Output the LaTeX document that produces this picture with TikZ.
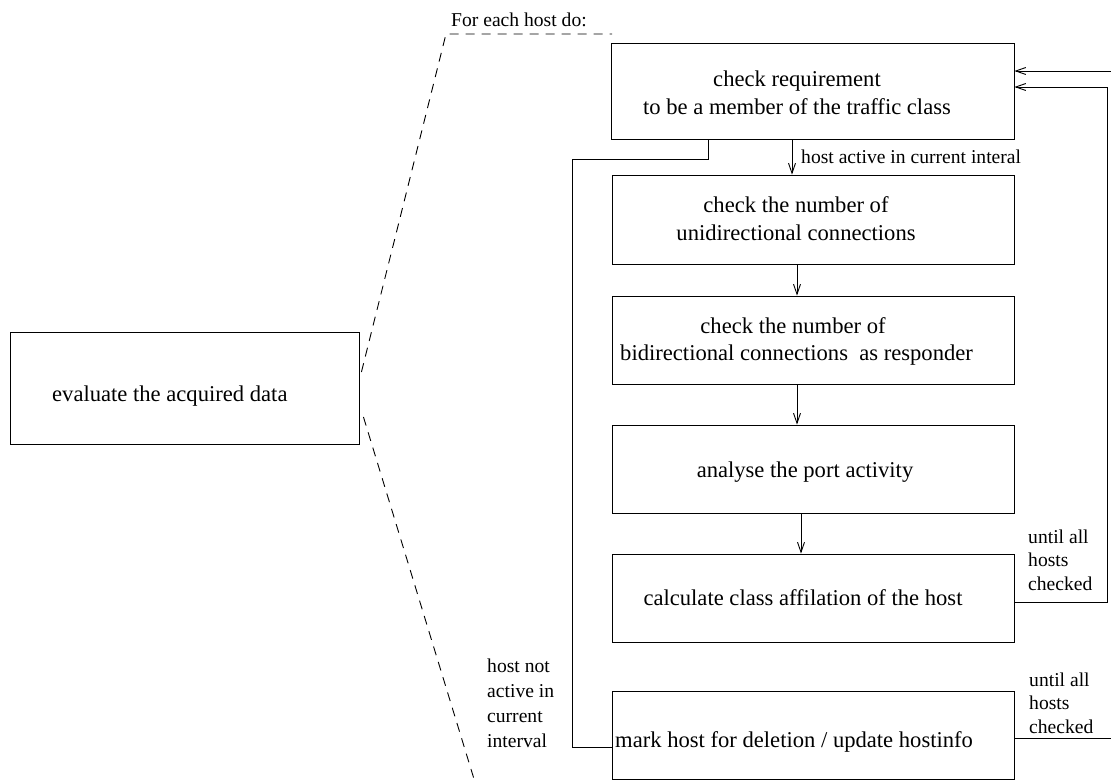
\documentclass[tikz,border=0pt]{standalone}
\usepackage{fontspec}
\setmainfont{Liberation Serif}
\usetikzlibrary{arrows.meta}
\begin{document}
\begin{tikzpicture}[x=1pt,y=-1pt,
  box/.style={draw, line width=0.9pt, inner sep=0pt, minimum width=402pt, minimum height=88pt},
  big/.style={font=\fontsize{22.6}{28}\selectfont, inner sep=0pt, align=center},
  bigl/.style={font=\fontsize{22.6}{28}\selectfont, inner sep=0pt, align=left},
  small/.style={font=\fontsize{19.6}{23.5}\selectfont, inner sep=0pt, align=left},
  conn/.style={line width=0.9pt},
  arr/.style={line width=0.9pt, -{Straight Barb[length=10pt,width=7pt]}},
  dashline/.style={line width=0.9pt, dash pattern=on 9pt off 7pt}]
\useasboundingbox (0,0) rectangle (1111,781);

% boxes
\node[box, minimum width=349pt, minimum height=112pt] (lb) at (184.5,388) {};
\node[box, minimum width=403pt, minimum height=96pt] (b1) at (812.5,91) {};
\node[box, minimum height=89pt] (b2) at (813,219.5) {};
\node[box] (b3) at (813,340) {};
\node[box] (b4) at (813,469) {};
\node[box] (b5) at (813,598) {};
\node[box] (b6) at (813,735) {};

% box texts (base anchor = last line's baseline)
\node[bigl, anchor=base west] (tlb) at (52,401) {evaluate the acquired data};
\node[big, anchor=base] (t1) at (797,115) {check requirement\\to be a member of the traffic class};
\node[big, anchor=base] (t2) at (796,240) {check the number of\\unidirectional connections};
\node[big, anchor=base] (t3a) at (793,333) {check the number of};
\node[bigl, anchor=base west] (t3b) at (620,360) {bidirectional connections\ \ as responder};
\node[big, anchor=base] (t4) at (805,477) {analyse the port activity};
\node[big, anchor=base] (t5) at (803,605) {calculate class affilation of the host};
\node[bigl, anchor=base west] (t6) at (615,747) {mark host for deletion / update hostinfo};

% labels
\node[small, anchor=base west] (lfor) at (451,27) {For each host do:};
\node[small, anchor=base west] (lact) at (801,164) {host active in current interal};
\node[small, anchor=base west, font=\fontsize{19.6}{25}\selectfont] (lnot) at (487,747) {host not\\active in\\current\\interval};
\node[small, anchor=base west] (lu1) at (1028,590) {until all\\hosts\\checked};
\node[small, anchor=base west] (lu2) at (1029,733) {until all\\hosts\\checked};

% coordinates
\coordinate (r1) at (1111,71);
\coordinate (lp) at (1107,87);
\coordinate (r6) at (1111,738);
\coordinate (lc) at (572,159);
\coordinate (d2) at (446,34);
\coordinate (d3) at (612,34);
\coordinate (d5) at (474,779);

% connectors
\draw[arr] (r1) -- (r1 -| b1.east);
\draw[arr] ([yshift=-4pt]b5.east) -| (lp) -- (lp -| b1.east);
\draw[conn] ([yshift=-3pt]b6.east) -- (r6);
\draw[conn] ([xshift=-104.5pt]b1.south) |- (lc) |- ([yshift=-12pt]b6.west);
\draw[arr] ([xshift=-20.5pt]b1.south) -- ([xshift=-21pt]b2.north);
\draw[arr] ([xshift=-16pt]b2.south) -- ([xshift=-16pt]b3.north);
\draw[arr] ([xshift=-16pt]b3.south) -- ([xshift=-16pt]b4.north);
\draw[arr] ([xshift=-12pt]b4.south) -- ([xshift=-12pt]b5.north);

% dashed
\draw[dashline] ([xshift=2pt,yshift=16pt]lb.east) -- (d2) -- (d3);
\draw[dashline] ([xshift=4pt,yshift=-29pt]lb.east) -- (d5);
\end{tikzpicture}
\end{document}
